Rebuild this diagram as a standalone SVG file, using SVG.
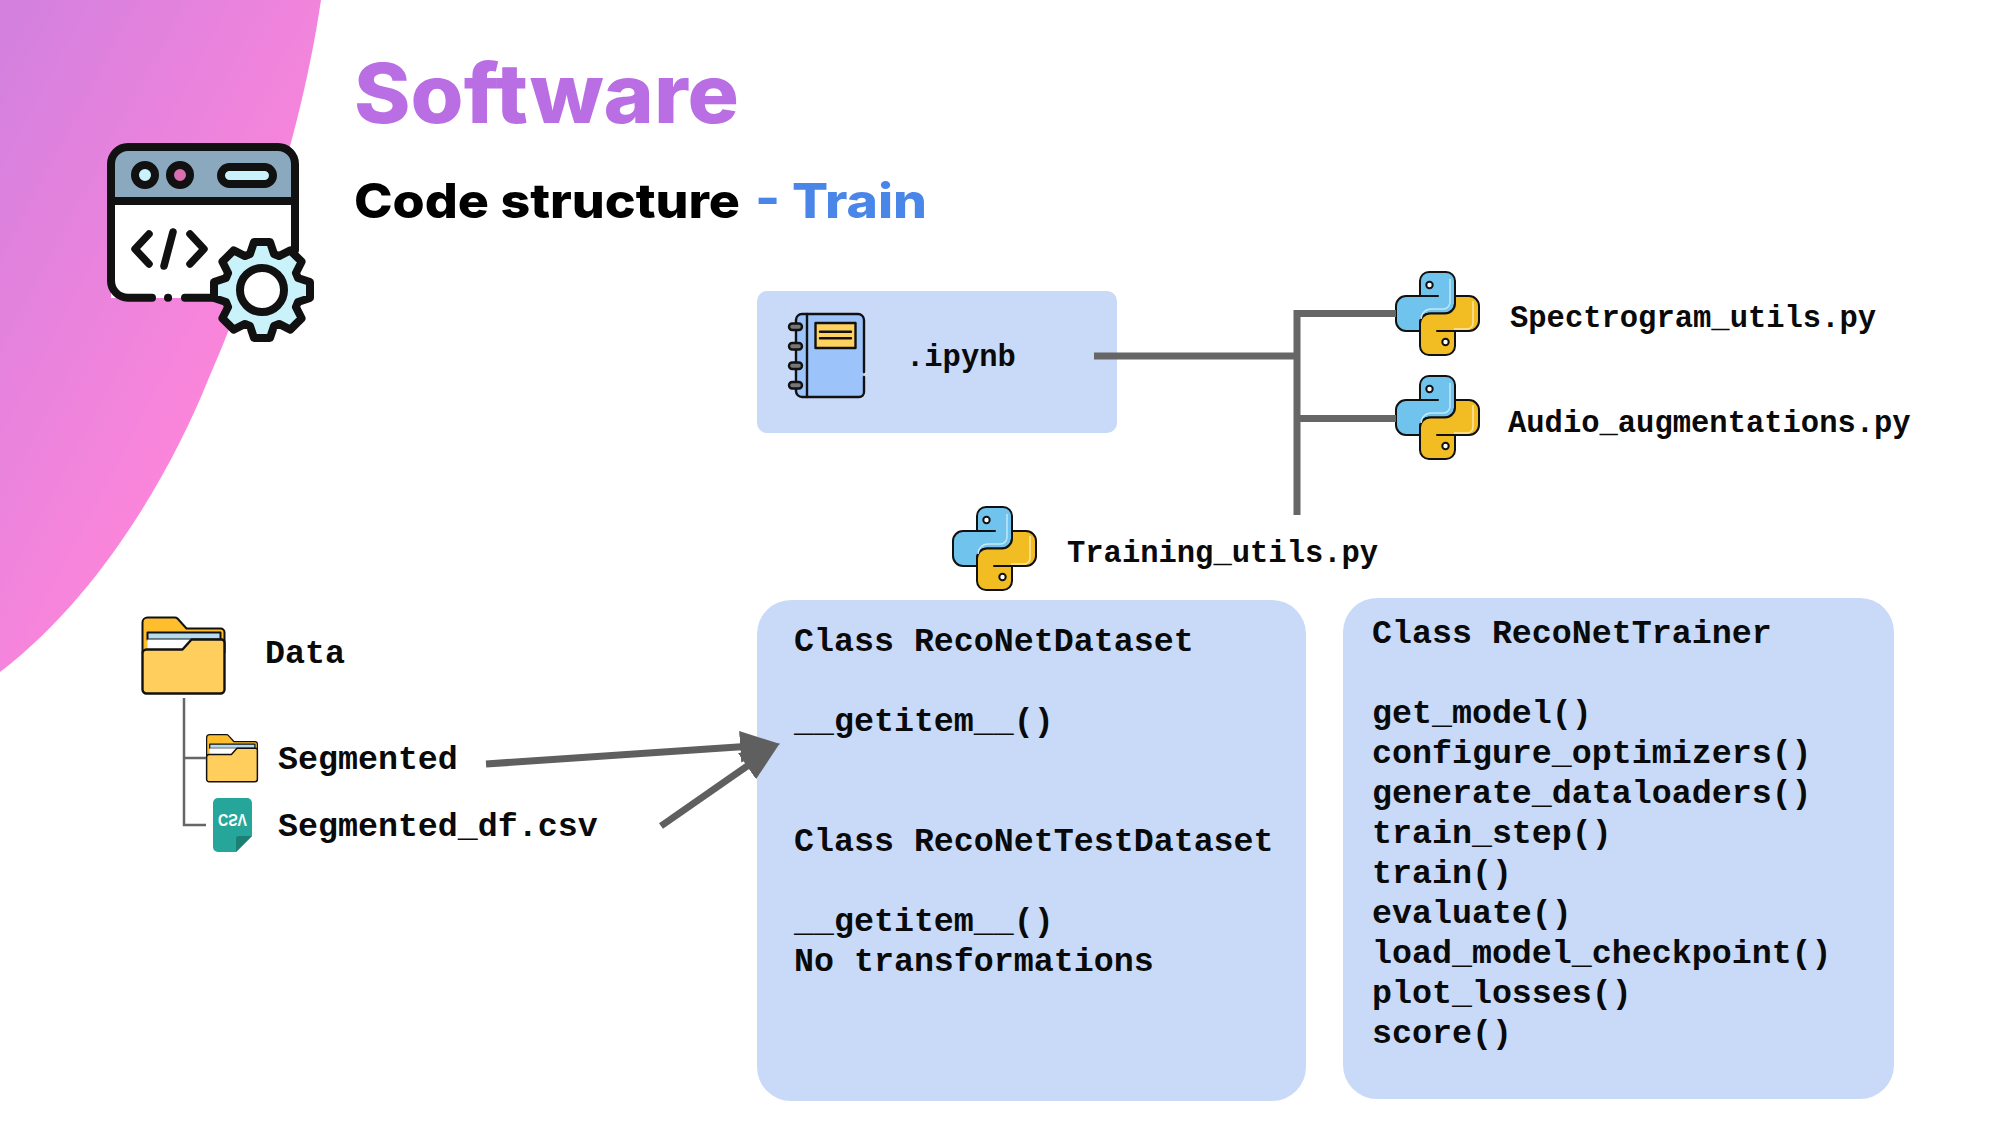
<svg xmlns="http://www.w3.org/2000/svg" width="2000" height="1125" viewBox="0 0 2000 1125">
<style>
.mono{font-family:"Liberation Mono","Courier New",monospace;font-weight:700;fill:#0a0a0a}
.m33{font-size:33.3px}
.m31{font-size:30.5px}
.head{font-family:Inter,"Liberation Sans",sans-serif;font-weight:800}
.box{fill:#c9daf8}
.conn{stroke:#666;fill:none;stroke-linecap:butt}
.ink{stroke:#111;stroke-linejoin:round;stroke-linecap:round}
</style>
<defs>
<linearGradient id="bg" gradientUnits="userSpaceOnUse" x1="0" y1="50" x2="340" y2="230">
<stop offset="0" stop-color="#d480df"/><stop offset="1" stop-color="#ff86da"/>
</linearGradient>
<marker id="head" markerUnits="userSpaceOnUse" markerWidth="40" markerHeight="32" viewBox="0 0 38 30" refX="8" refY="15" orient="auto">
<path d="M0 0L38 15L0 30Z" fill="#5f5f5f"/>
</marker>
<symbol id="py" viewBox="0 0 83 83" overflow="visible">
<path d="M24 24V9a9 9 0 0 1 9-9h17a9 9 0 0 1 9 9v22.500a10 10 0 0 1-10 10H34a10 10 0 0 0-10 10v7.500H10A10 10 0 0 1 0 49V34a10 10 0 0 1 10-10h32" fill="#6fc3ec" class="ink" stroke-width="2"/>
<g transform="rotate(180 41.500 41.500)">
<path d="M24 24V9a9 9 0 0 1 9-9h17a9 9 0 0 1 9 9v22.500a10 10 0 0 1-10 10H34a10 10 0 0 0-10 10v7.500H10A10 10 0 0 1 0 49V34a10 10 0 0 1 10-10h32" fill="#f2bd22" class="ink" stroke-width="2"/>
</g>
<path d="M54 7v24a7 7 0 0 1-7 6H35a10 10 0 0 0-10 10" fill="none" stroke="#c4e8f8" stroke-width="1.500"/>
<path d="M77 29v22a6 6 0 0 1-6 6H58" fill="none" stroke="#fbe6a6" stroke-width="1.500"/>
<circle cx="33.500" cy="13" r="3.200" fill="#fff" class="ink" stroke-width="2"/>
<circle cx="49.500" cy="70" r="3.200" fill="#fff" class="ink" stroke-width="2"/>
</symbol>
<symbol id="folder" viewBox="0 0 84 78" overflow="visible">
<path d="M1 6a5 5 0 0 1 5-5h27a4 4 0 0 1 3 1l9 10h34a4 4 0 0 1 4 4v20H1Z" fill="#ffbe2e" class="ink" stroke-width="2"/>
<rect x="6" y="16" width="73" height="7" fill="#b4dcee" class="ink" stroke-width="2"/>
<rect x="6" y="23" width="50" height="11" fill="#fff"/>
<path d="M1 37a4 4 0 0 1 4-4h36l9-10h30a3 3 0 0 1 3 3v47a4 4 0 0 1-4 4H5a4 4 0 0 1-4-4Z" fill="#ffce5c" class="ink" stroke-width="2.400"/>
</symbol>
</defs>

<path id="backdrop" d="M0 0H321C305 110 265 250 208 380C172 470 100 596 0 672Z" fill="url(#bg)"/>

<g id="software-icon">
<path d="M111 200V164a17 17 0 0 1 17-17H278a17 17 0 0 1 17 17V200Z" fill="#8aa9bf"/>
<rect x="111" y="200" width="184" height="98" fill="#fff"/>
<g class="ink" fill="none" stroke-width="8">
<path d="M152 297.700H128a17 17 0 0 1-17-17V164a17 17 0 0 1 17-17H278a17 17 0 0 1 17 17V250"/>
<path d="M111 201H295"/>
<path d="M168 297.700h.1M185 297.700H230"/>
<circle cx="145" cy="175" r="10" fill="#c9f2fb"/>
<circle cx="180" cy="175" r="10" fill="#d96fae"/>
<rect x="221" y="167" width="52" height="17" rx="8.500" fill="#c9f2fb"/>
<path d="M149 234L135 249L149 264M173 232L164 266M190 234L204 249L190 264" stroke-width="7.500"/>
<polygon transform="translate(262 290)" fill="#c9f2fb" points="36,-12 48,-8 48,8 36,12 33.900,17 39.600,28.300 28.300,39.600 17,33.900 12,36 8,48 -8,48 -12,36 -17,33.900 -28.300,39.600 -39.600,28.300 -33.900,17 -36,12 -48,8 -48,-8 -36,-12 -33.900,-17 -39.600,-28.300 -28.300,-39.600 -17,-33.900 -12,-36 -8,-48 8,-48 12,-36 17,-33.900 28.300,-39.600 39.600,-28.300 33.900,-17"/>
<circle cx="262" cy="290" r="22" fill="#fff"/>
</g>
</g>

<text id="title" class="head" x="354" y="123" font-size="82" fill="#b96fe3" textLength="385" lengthAdjust="spacingAndGlyphs">Software</text>
<text id="subtitle" class="head" x="354" y="218" font-size="48" fill="#000" textLength="386" lengthAdjust="spacingAndGlyphs">Code structure</text>
<text id="subtitle-train" class="head" x="755" y="218" font-size="48" fill="#4a86e8" textLength="172" lengthAdjust="spacingAndGlyphs">- Train</text>

<g id="node-ipynb">
<rect class="box" x="757" y="291" width="360" height="142" rx="10"/>
<g>
<path d="M807 314H858a6 6 0 0 1 6 6V392a5 5 0 0 1-5 5H807Z" fill="#9cc4fa"/>
<path d="M807 314H801a6 6 0 0 0-6 6V391a6 6 0 0 0 6 6H807Z" fill="#9cc4fa"/>
<g class="ink" fill="none" stroke-width="2.400">
<path d="M796 320a6 6 0 0 1 6-6H858a6 6 0 0 1 6 6V372M864 377V392a5 5 0 0 1-5 5H802a6 6 0 0 1-6-6"/>
<path d="M796 320V391M807 314V397"/>
<rect x="815.500" y="323" width="40" height="25" fill="#ffd25f"/>
<path d="M820 331.700H851M820 338.300H851"/>
<rect x="789" y="323.500" width="13" height="6.500" rx="3.200" fill="#777"/>
<rect x="789" y="343" width="13" height="6.500" rx="3.200" fill="#777"/>
<rect x="789" y="362.500" width="13" height="6.500" rx="3.200" fill="#777"/>
<rect x="789" y="382" width="13" height="6.500" rx="3.200" fill="#777"/>
</g>
</g>
<text class="mono m31" x="906" y="366">.ipynb</text>
</g>

<g id="node-spectrogram">
<use href="#py" x="1396" y="272" width="83" height="83"/>
<text class="mono m31" x="1510" y="327">Spectrogram_utils.py</text>
</g>
<g id="node-audio">
<use href="#py" x="1396" y="376" width="83" height="83"/>
<text class="mono m31" x="1508" y="432">Audio_augmentations.py</text>
</g>
<g id="node-training">
<use href="#py" x="953" y="507" width="83" height="83"/>
<text class="mono m31" x="1067" y="562">Training_utils.py</text>
</g>

<g id="node-data">
<use href="#folder" x="141.500" y="616.500" width="84" height="78"/>
<text class="mono m33" x="265" y="663">Data</text>
</g>
<g id="node-segmented">
<use href="#folder" x="206" y="734" width="52" height="48.500"/>
<text class="mono m33" x="278" y="769">Segmented</text>
</g>
<g id="node-csv">
<path d="M218 798H247a5 5 0 0 1 5 5V836L236 852H218a5 5 0 0 1-5-5V803a5 5 0 0 1 5-5Z" fill="#26a69a"/>
<path d="M252 836H239a3 3 0 0 0-3 3V852Z" fill="#1c7f76"/>
<text transform="translate(218 814) scale(1 -1)" font-family="Liberation Sans,sans-serif" font-weight="700" font-size="17" fill="#fff" textLength="29" lengthAdjust="spacingAndGlyphs">CSV</text>
<text class="mono m33" x="278" y="836">Segmented_df.csv</text>
</g>

<g id="node-dataset">
<rect class="box" x="757" y="600" width="549" height="501" rx="34"/>
<g class="mono m33">
<text x="794" y="651">Class RecoNetDataset</text>
<text x="794" y="731">__getitem__()</text>
<text x="794" y="851">Class RecoNetTestDataset</text>
<text x="794" y="931">__getitem__()</text>
<text x="794" y="971">No transformations</text>
</g>
</g>

<g id="node-trainer">
<rect class="box" x="1343" y="598" width="551" height="501" rx="34"/>
<g class="mono m33">
<text x="1372" y="642.500">Class RecoNetTrainer</text>
<text x="1372" y="722.500">get_model()</text>
<text x="1372" y="762.500">configure_optimizers()</text>
<text x="1372" y="802.500">generate_dataloaders()</text>
<text x="1372" y="842.500">train_step()</text>
<text x="1372" y="882.500">train()</text>
<text x="1372" y="922.500">evaluate()</text>
<text x="1372" y="962.500">load_model_checkpoint()</text>
<text x="1372" y="1002.500">plot_losses()</text>
<text x="1372" y="1042.500">score()</text>
</g>
</g>

<g id="connectors">
<path class="conn" stroke-width="7" d="M1094 356H1297M1301 356M1297 310V515M1294 313.500H1396M1297 418.500H1396"/>
<path class="conn" stroke-width="2.500" d="M184 698V825H206M184 758H206"/>
<path d="M486 764L748.600 746.200" stroke="#5f5f5f" stroke-width="7" fill="none" marker-end="url(#head)"/>
<path d="M661 826L753.900 761.400" stroke="#5f5f5f" stroke-width="7" fill="none" marker-end="url(#head)"/>
</g>
</svg>
